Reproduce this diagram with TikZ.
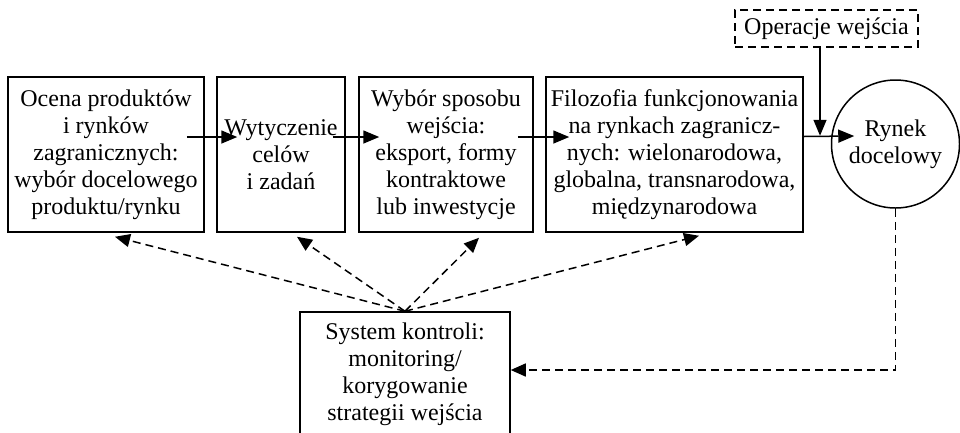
\documentclass[tikz,border=0pt]{standalone}
\usepackage{fontspec}
\setmainfont{Liberation Serif}
\usetikzlibrary{arrows.meta,calc}
\begin{document}
\begin{tikzpicture}[x=1pt,y=-1pt,
  every node/.style={font=\fontsize{24}{27}\selectfont, align=center, inner sep=0pt},
  stepbox/.style={draw, line width=1.5pt, minimum height=155pt},
  arr/.style={line width=1.5pt, -{Triangle[length=16pt,width=13pt]}},
  dasharr/.style={line width=1.5pt, dash pattern=on 8pt off 5pt, -{Triangle[length=15pt,width=13pt]}}]
\useasboundingbox (0,0) rectangle (960,432);
\node[stepbox, minimum width=196pt] (b1) at (106,154.5) {Ocena produktów\\i rynków\\zagranicznych:\\wybór docelowego\\produktu/rynku};
\node[stepbox, minimum width=128pt] (b2) at (281,154.5) {Wytyczenie\\celów\\i zadań};
\node[stepbox, minimum width=174pt] (b3) at (446,154.5) {Wybór sposobu\\wejścia:\\eksport, formy\\kontraktowe\\lub inwestycje};
\node[stepbox, minimum width=257pt] (b4) at (674.5,154.5) {Filozofia funkcjonowania\\na rynkach zagranicz-\\nych: wielonarodowa,\\globalna, transnarodowa,\\międzynarodowa};
\node[draw, line width=1.5pt, dash pattern=on 8pt off 5pt, minimum width=183pt, minimum height=37pt] (op) at (826.5,28.5) {Operacje wejścia};
\node[draw, circle, line width=1.5pt, minimum size=128pt] (circ) at (895.5,144) {Rynek\\docelowy};
\node[draw, line width=1.5pt, minimum width=210pt, minimum height=124pt] (ctl) at (405,374) {System kontroli:\\monitoring/\\korygowanie\\strategii wejścia};
\coordinate (j) at ($(op.south)+(-6.5,88)$);
% solid arrows
\draw[arr] ($(b1.east)+(-18,-17.5)$) -- ($(b2.west)+(21,-17.5)$);
\draw[arr] ($(b2.east)+(-13,-17.5)$) -- ($(b3.west)+(21,-17.5)$);
\draw[arr] ($(b3.east)+(-16,-17.5)$) -- ($(b4.west)+(24,-17.5)$);
\draw[arr] ($(b4.east)+(0,-18)$) -- ($(circ.west)+(23.5,-8)$);
\draw[arr] ($(op.south)+(-6.5,0)$) -- (j);
% dashed arrows
\draw[dasharr] (ctl.north) -- ($(b1.south)+(9,4)$);
\draw[dasharr] (ctl.north) -- ($(b2.south)+(16,4)$);
\draw[dasharr] (ctl.north) -- ($(b3.south)+(33,5)$);
\draw[dasharr] (ctl.north) -- ($(b4.south)+(24.5,3)$);
\draw[dasharr] (circ.south) |- ($(ctl.east)+(0,-4)$);
\end{tikzpicture}
\end{document}
